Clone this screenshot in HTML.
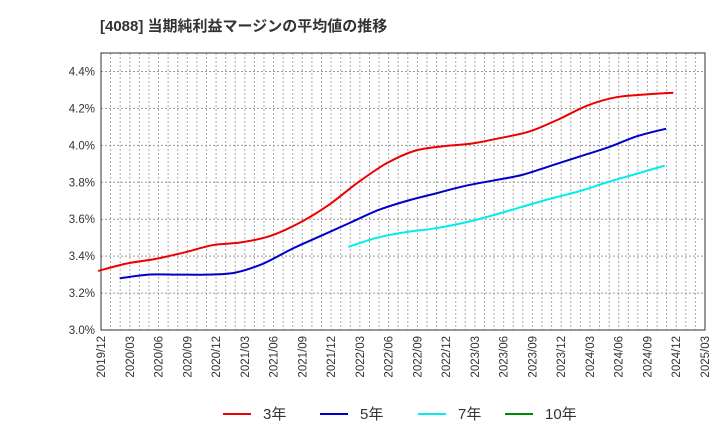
<!DOCTYPE html>
<html><head><meta charset="utf-8"><style>
body{margin:0;background:#fff;font-family:"Liberation Sans","Noto Sans CJK JP",sans-serif}
</style></head><body>
<svg width="720" height="440" xmlns="http://www.w3.org/2000/svg" id="c">
<text x="100" y="31" font-size="15" font-weight="bold" fill="#333" font-family="Liberation Sans, Noto Sans CJK JP, sans-serif">[4088]  当期純利益マージンの平均値の推移</text>
<g id="grid"></g><g id="axes"></g><g id="series"></g>
<g id="legend" font-size="15" fill="#333" font-family="Liberation Sans, Noto Sans CJK JP, sans-serif">
<line x1="223" y1="414" x2="251" y2="414" stroke="#e00" stroke-width="2"/><text x="263" y="419">3年</text>
<line x1="320" y1="414" x2="348" y2="414" stroke="#00c" stroke-width="2"/><text x="360" y="419">5年</text>
<line x1="418" y1="414" x2="446" y2="414" stroke="#0ee" stroke-width="2"/><text x="458" y="419">7年</text>
<line x1="505" y1="414" x2="533" y2="414" stroke="#080" stroke-width="2"/><text x="545" y="419">10年</text>
</g>
</svg>
<script>
const xLabels=["2019/12","2020/03","2020/06","2020/09","2020/12","2021/03","2021/06","2021/09","2021/12","2022/03","2022/06","2022/09","2022/12","2023/03","2023/06","2023/09","2023/12","2024/03","2024/06","2024/09","2024/12","2025/03"];
const yTicks=[3.0,3.2,3.4,3.6,3.8,4.0,4.2,4.4];
const s3=[3.32,3.36,3.385,3.42,3.46,3.475,3.51,3.58,3.675,3.795,3.90,3.97,3.995,4.01,4.04,4.075,4.14,4.215,4.26,4.275,4.285];
const s5=[3.28,3.30,3.30,3.30,3.30,3.31,3.36,3.44,3.51,3.58,3.65,3.70,3.74,3.78,3.81,3.84,3.89,3.94,3.99,4.05,4.09].slice(0,1).concat([3.30,3.30,3.30,3.31,3.36,3.44,3.51,3.58,3.65,3.70,3.74,3.78,3.81,3.84,3.89,3.94,3.99,4.05,4.09]);
const s7=[3.45,3.50,3.53,3.55,3.58,3.62,3.665,3.71,3.75,3.80,3.845,3.89];
const s10=[];
const L=101,R=705,T=53,B=330,yMin=3.0,yMax=4.5;
const qw=(R-L)/(xLabels.length-1);
const X=i=>L+i*qw, Y=v=>B-(v-yMin)/(yMax-yMin)*(B-T);
const NS="http://www.w3.org/2000/svg";
function mk(p,t,a){const e=document.createElementNS(NS,t);for(const k in a)e.setAttribute(k,a[k]);p.appendChild(e);return e;}
const g=document.getElementById('grid'),ax=document.getElementById('axes'),sg=document.getElementById('series');
for(let m=1;m<(xLabels.length-1)*3;m++){const x=L+m*qw/3;
const l=mk(g,'line',{x1:x,x2:x,y1:T,y2:B,stroke:'#aaa','stroke-dasharray':'2,2','stroke-width':1});

}
yTicks.forEach(v=>{const y=Y(v);
if(v>yMin){const l=mk(g,'line',{x1:L,x2:R,y1:y,y2:y,stroke:'#999','stroke-dasharray':'2,2'});

}
const t=mk(ax,'text',{x:L-6,y:y+4,'text-anchor':'end','font-size':11.5,fill:'#333'});t.textContent=v.toFixed(1)+'%';

});
xLabels.forEach((s,i)=>{const x=X(i);const t=mk(ax,'text',{transform:`translate(${x+4},${B+6}) rotate(-90)`,'text-anchor':'end','font-size':11.5,fill:'#333'});t.textContent=s;

});
const fr=mk(ax,'rect',{x:L,y:T,width:R-L,height:B-T,fill:'none',stroke:'#333','stroke-width':1});


function path(arr,off){const p=arr.map((v,i)=>[X(i+off),Y(v)]);if(p.length<2)return '';
let d=`M${p[0][0]},${p[0][1]}`;
for(let i=0;i<p.length-1;i++){const p0=p[i-1]||p[i],p1=p[i],p2=p[i+1],p3=p[i+2]||p2;
d+=` C${p1[0]+(p2[0]-p0[0])/6},${p1[1]+(p2[1]-p0[1])/6} ${p2[0]-(p3[0]-p1[0])/6},${p2[1]-(p3[1]-p1[1])/6} ${p2[0]},${p2[1]}`;}
return d;}
[[s3,-0.1,'#e00','line-3y'],[s5,0.65,'#00c','line-5y'],[s7,8.6,'#0ee','line-7y'],[s10,0,'#080','line-10y']].forEach(([a,o,c,n])=>{
const d=path(a,o);if(!d)return;const e=mk(sg,'path',{d:d,fill:'none',stroke:c,'stroke-width':2});

});
</script>
</body></html>
